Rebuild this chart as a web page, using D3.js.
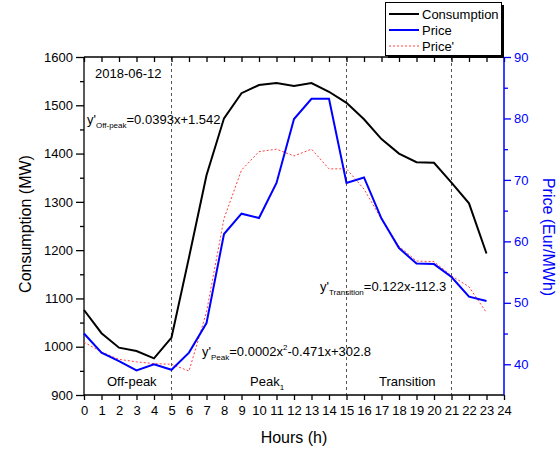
<!DOCTYPE html>
<html>
<head>
<meta charset="utf-8">
<script src="https://cdn.jsdelivr.net/npm/d3@7"></script>
<style>
  body { margin: 0; background: #fff; }
  svg { font-family: "Liberation Sans", Arial, sans-serif; }
</style>
</head>
<body>
<svg width="558" height="450"></svg>
<script>
  // hourly values
  const hours = d3.range(0, 24);
  const consumption = [1076, 1028, 998, 991, 976, 1019, 1185, 1355, 1473, 1525, 1542, 1546,
                       1540, 1546, 1528, 1505, 1471, 1430, 1400, 1382, 1381, 1340, 1297, 1193];
  const price = [45.0, 41.9, 40.5, 39.0, 40.0, 39.1, 41.9, 46.7, 61.2, 64.5, 63.8, 69.5,
                 79.9, 83.2, 83.2, 69.5, 70.4, 63.7, 58.9, 56.4, 56.3, 54.2, 51.0, 50.3];
  const priceFit = [43.6, 42.0, 40.8, 40.4, 40.1, 40.0, 38.9, 48.5, 63.7, 71.6, 74.6, 75.0,
                    73.9, 75.0, 71.8, 71.8, 68.5, 63.6, 59.2, 56.8, 56.7, 54.4, 52.6, 48.4];
  const periodBounds = [5, 15, 21];
  const xTicks = d3.range(0, 25);
  const leftTicks = d3.range(900, 1601, 100);
  const leftMinor = d3.range(950, 1600, 100);
  const rightTicks = d3.range(40, 91, 10);
  const rightMinor = d3.range(45, 90, 10);

  const svg = d3.select('svg');
  const pLeft = 84, pRight = 504, pTop = 57, pBottom = 395;

  const x = d3.scaleLinear().domain([0, 24]).range([pLeft, pRight]);
  const yL = d3.scaleLinear().domain([900, 1600]).range([pBottom, pTop]);
  const yR = d3.scaleLinear().domain([35, 90]).range([pBottom, pTop]);

  // period separators
  svg.append('g').selectAll('line')
    .data(periodBounds)
    .enter().append('line')
      .attr('x1', d => x(d)).attr('x2', d => x(d))
      .attr('y1', pTop).attr('y2', pBottom)
      .attr('stroke', '#555').attr('stroke-width', 1)
      .attr('stroke-dasharray', '3,3');

  const styleAxis = (g, color, fs) => {
    g.select('.domain').remove();
    g.selectAll('line').attr('stroke', color).attr('stroke-width', 1.3);
    g.selectAll('text').attr('fill', color).style('font-size', fs + 'px');
  };

  // bottom axis
  svg.append('g')
    .attr('transform', `translate(0,${pBottom})`)
    .call(d3.axisBottom(x).tickValues(xTicks).tickSize(5).tickPadding(6).tickFormat(d3.format('d')))
    .call(g => styleAxis(g, '#000', 13));
  // top axis (ticks inward)
  svg.append('g')
    .attr('transform', `translate(0,${pTop})`)
    .call(d3.axisBottom(x).tickValues(xTicks).tickSize(5).tickFormat(''))
    .call(g => styleAxis(g, '#000', 13));

  // left axis
  svg.append('g')
    .attr('transform', `translate(${pLeft},0)`)
    .call(d3.axisLeft(yL).tickValues(leftTicks).tickSize(8).tickPadding(3).tickFormat(d3.format('d')))
    .call(g => styleAxis(g, '#000', 13));
  svg.append('g')
    .attr('transform', `translate(${pLeft},0)`)
    .call(d3.axisLeft(yL).tickValues(leftMinor).tickSize(4).tickFormat(''))
    .call(g => styleAxis(g, '#000', 13));

  // right axis
  svg.append('g')
    .attr('transform', `translate(${pRight},0)`)
    .call(d3.axisRight(yR).tickValues(rightTicks).tickSize(7).tickPadding(3).tickFormat(d3.format('d')))
    .call(g => styleAxis(g, '#0000ff', 13));
  svg.append('g')
    .attr('transform', `translate(${pRight},0)`)
    .call(d3.axisRight(yR).tickValues(rightMinor).tickSize(4).tickFormat(''))
    .call(g => styleAxis(g, '#0000ff', 13));

  // frame
  svg.append('line').attr('x1', pLeft).attr('x2', pRight).attr('y1', pTop).attr('y2', pTop)
    .attr('stroke', '#000').attr('stroke-width', 1.3);
  svg.append('line').attr('x1', pLeft).attr('x2', pRight).attr('y1', pBottom).attr('y2', pBottom)
    .attr('stroke', '#000').attr('stroke-width', 1.3);
  svg.append('line').attr('x1', pLeft).attr('x2', pLeft).attr('y1', pTop).attr('y2', pBottom)
    .attr('stroke', '#000').attr('stroke-width', 1.3);
  svg.append('line').attr('x1', pRight).attr('x2', pRight).attr('y1', pTop).attr('y2', pBottom)
    .attr('stroke', '#0000ff').attr('stroke-width', 1.5);

  // series
  const lineL = d3.line().x((d, i) => x(hours[i])).y(d => yL(d));
  const lineR = d3.line().x((d, i) => x(hours[i])).y(d => yR(d));

  svg.append('path').datum(priceFit)
    .attr('d', lineR).attr('fill', 'none')
    .attr('stroke', '#ff4040').attr('stroke-width', 1)
    .attr('stroke-dasharray', '2,2');
  svg.append('path').datum(price)
    .attr('d', lineR).attr('fill', 'none')
    .attr('stroke', '#0000ff').attr('stroke-width', 2);
  svg.append('path').datum(consumption)
    .attr('d', lineL).attr('fill', 'none')
    .attr('stroke', '#000').attr('stroke-width', 2);

  // axis titles
  svg.append('text')
    .attr('transform', `translate(27,224) rotate(-90)`)
    .attr('text-anchor', 'middle').attr('dominant-baseline', 'middle')
    .style('font-size', '16px')
    .text('Consumption (MW)');
  svg.append('text')
    .attr('transform', `translate(547,237) rotate(90)`)
    .attr('text-anchor', 'middle').attr('dominant-baseline', 'middle')
    .attr('fill', '#0000ff')
    .style('font-size', '16px')
    .text('Price (Eur/MWh)');
  svg.append('text')
    .attr('x', (pLeft + pRight) / 2).attr('y', 443)
    .attr('text-anchor', 'middle')
    .style('font-size', '16px')
    .text('Hours (h)');

  // annotations
  const note = (px, py, parts) => {
    const t = svg.append('text').attr('x', px).attr('y', py).style('font-size', '13px');
    parts.forEach(p => {
      const s = t.append('tspan').text(p.t);
      if (p.sub) s.attr('dy', 4).style('font-size', '8px');
      if (p.sup) s.attr('dy', -6).style('font-size', '8px');
      if (p.back) s.attr('dy', p.back);
    });
  };
  note(95, 78, [{t: '2018-06-12'}]);
  note(87, 124, [{t: "y'"}, {t: 'Off-peak', sub: true}, {t: '=0.0393x+1.542', back: -4}]);
  note(202, 356, [{t: "y'"}, {t: 'Peak', sub: true}, {t: '=0.0002x', back: -4},
                  {t: '2', sup: true}, {t: '-0.471x+302.8', back: 6}]);
  note(320, 291, [{t: "y'"}, {t: 'Transition', sub: true}, {t: '=0.122x-112.3', back: -4}]);
  note(107, 386, [{t: 'Off-peak'}]);
  note(250, 386, [{t: 'Peak'}, {t: '1', sub: true}]);
  note(379, 386, [{t: 'Transition'}]);

  // legend
  const legendItems = [
    {name: 'Consumption', color: '#000', width: 2, dash: null},
    {name: 'Price', color: '#0000ff', width: 2, dash: null},
    {name: "Price'", color: '#ff4040', width: 1, dash: '2,2'}
  ];
  const lg = svg.append('g').attr('transform', 'translate(385,2)');
  lg.append('rect').attr('x', 3).attr('y', 3).attr('width', 116).attr('height', 53).attr('fill', '#000');
  lg.append('rect').attr('x', 0.5).attr('y', 0.5).attr('width', 116).attr('height', 53)
    .attr('fill', '#fff').attr('stroke', '#000').attr('stroke-width', 1);
  legendItems.forEach((d, i) => {
    const cy = 12 + i * 16;
    lg.append('line').attr('x1', 4).attr('x2', 34).attr('y1', cy).attr('y2', cy)
      .attr('stroke', d.color).attr('stroke-width', d.width)
      .attr('stroke-dasharray', d.dash);
    lg.append('text').attr('x', 37).attr('y', cy).attr('dy', '0.35em')
      .style('font-size', '13px').text(d.name);
  });
</script>
</body>
</html>
